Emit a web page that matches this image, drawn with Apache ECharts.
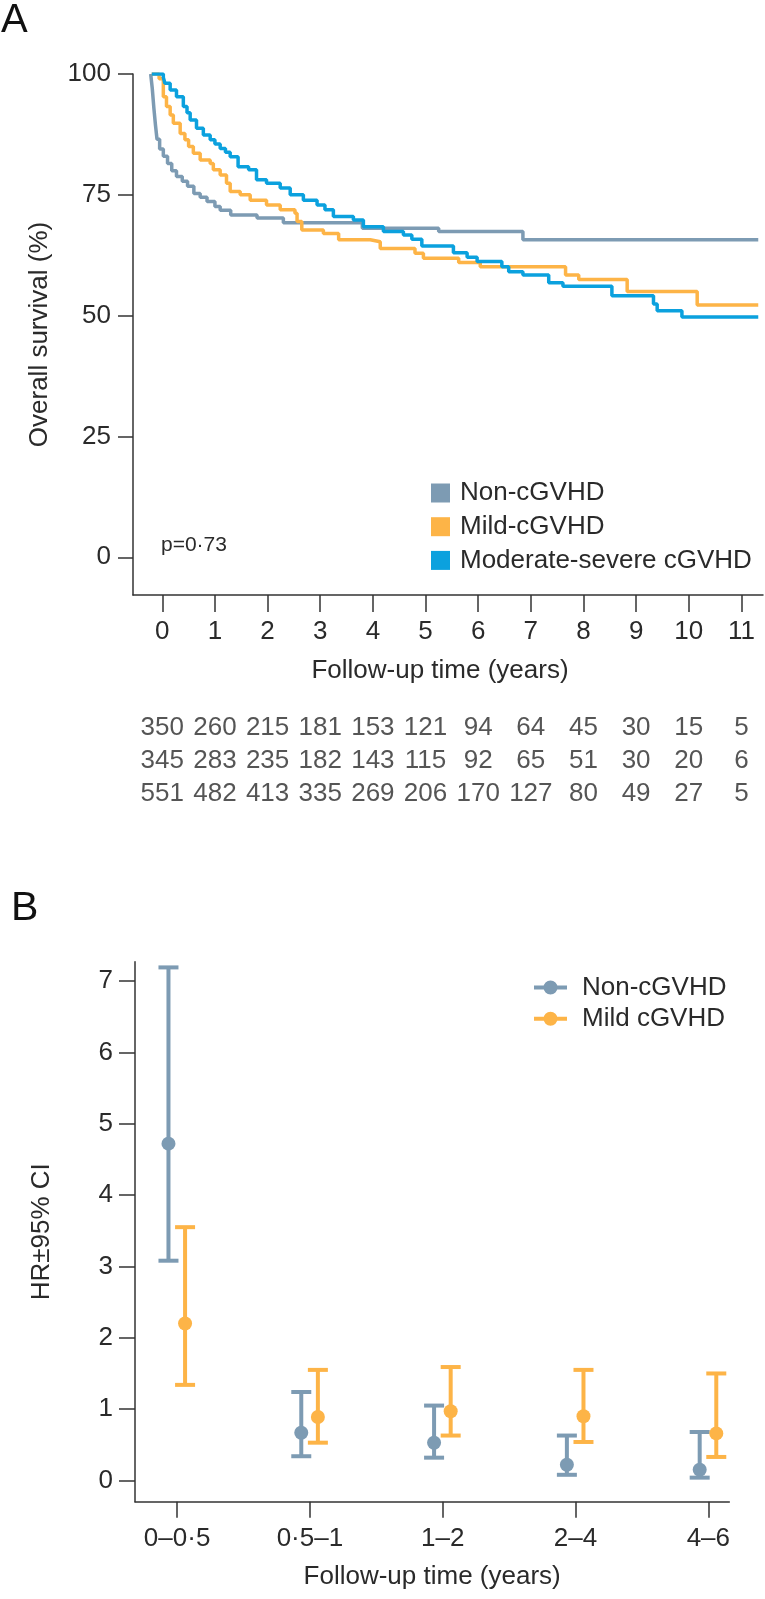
<!DOCTYPE html>
<html><head><meta charset="utf-8">
<script src="https://cdn.jsdelivr.net/npm/echarts@6/dist/echarts.min.js"></script>
<style>html,body{margin:0;padding:0;background:#fff}#c{width:765px;height:1599px}</style>
</head><body><div id="c"></div>
<script>
// ---------- Panel A: Kaplan-Meier steps [time (years), overall survival %] ----------
const kmNon = [[-0.22,100],[-0.19,97],[-0.16,93],[-0.13,89.5],[-0.1,86.5],[-0.05,84.5],[0.02,83],[0.1,81.5],[0.18,80],[0.27,78.8],[0.38,77.8],[0.48,76.8],[0.6,75.3],[0.72,74.5],[0.85,73.6],[1.0,72.6],[1.1,71.8],[1.3,70.8],[1.8,70.2],[2.3,69.2],[3.8,68.1],[5.25,67.4],[6.85,65.7],[11.32,65.7]];
const kmMild = [[-0.2,100],[-0.06,99],[0.02,95.3],[0.08,93.3],[0.15,91.5],[0.21,89.8],[0.34,87.7],[0.43,86.4],[0.5,85],[0.59,83.6],[0.72,82.2],[0.91,81.5],[0.97,80.2],[1.1,79.1],[1.22,77.4],[1.29,75.7],[1.48,75.0],[1.67,73.9],[1.98,72.9],[2.24,71.9],[2.52,71.2],[2.56,69.5],[2.65,67.7],[3.06,67.0],[3.35,65.7],[3.95,65.3],[4.14,63.9],[4.8,62.9],[4.96,61.9],[5.63,61.0],[6.04,60.1],[7.66,58.4],[7.91,57.5],[8.83,55.0],[10.16,52.2],[11.32,52.2]];
const kmMod = [[-0.2,100],[0.02,99.3],[0.05,98.1],[0.15,96.7],[0.27,95.3],[0.4,93.3],[0.47,92],[0.53,90.5],[0.65,88.8],[0.78,87.4],[0.91,86.4],[1.0,85.5],[1.1,84.6],[1.2,83.8],[1.29,82.9],[1.44,80.8],[1.64,80.2],[1.79,78.1],[1.98,77.4],[2.24,76.4],[2.43,75.0],[2.68,73.9],[2.94,72.9],[3.09,71.9],[3.25,70.5],[3.63,69.8],[3.82,68.4],[4.2,67.4],[4.58,66.7],[4.74,65.8],[4.93,64.4],[5.53,63.0],[5.79,62.1],[5.98,61.2],[6.45,60.1],[6.58,59.1],[6.85,58.4],[7.34,56.8],[7.61,56.1],[8.54,54.1],[9.33,52.4],[9.4,51.0],[9.87,49.7],[11.32,49.7]];
const kmNames = ['Non-cGVHD','Mild-cGVHD','Moderate-severe cGVHD'];
const kmTicksX = [0,1,2,3,4,5,6,7,8,9,10,11];
const kmTicksY = [0,25,50,75,100];
const pValueText = 'p=0·73';

// ---------- Numbers at risk ----------
const riskTimes = [0,1,2,3,4,5,6,7,8,9,10,11];
const riskNon  = [350,260,215,181,153,121,94,64,45,30,15,5];
const riskMild = [345,283,235,182,143,115,92,65,51,30,20,6];
const riskMod  = [551,482,413,335,269,206,170,127,80,49,27,5];

// ---------- Panel B: HR ± 95% CI ----------
const hrCategories = ['0–0·5','0·5–1','1–2','2–4','4–6'];
const hrNames = ['Non-cGVHD','Mild cGVHD'];
const hrNon     = [4.72,0.67,0.53,0.22,0.15];
const hrNonLow  = [3.08,0.34,0.32,0.08,0.04];
const hrNonHigh = [7.19,1.24,1.05,0.63,0.68];
const hrMild     = [2.20,0.89,0.97,0.90,0.66];
const hrMildLow  = [1.34,0.53,0.63,0.54,0.33];
const hrMildHigh = [3.55,1.55,1.59,1.55,1.50];
const hrTicksY = [0,1,2,3,4,5,6,7];

// ---------- styling ----------
const C_NON = '#7d9bb3', C_MILD = '#fdb447', C_MOD = '#0ba1de';
const INK = '#2a2a2a', AXIS = '#333333';
const FONT = '"Liberation Sans", Arial, sans-serif';
const FS = 26;

const chart = echarts.init(document.getElementById('c'), null, {renderer:'canvas'});

const axisLineStyle = {show:true, onZero:false, lineStyle:{color:AXIS, width:1.5}};
const kmLine = (name, data, color) => ({
  type:'line', name, data, step:'end', xAxisIndex:0, yAxisIndex:0,
  showSymbol:false, symbol:'none', silent:true,
  lineStyle:{color, width:3.5}, itemStyle:{color}, z:3
});
const riskSeries = (row, vals) => ({
  type:'scatter', xAxisIndex:1, yAxisIndex:1, silent:true, symbolSize:1,
  itemStyle:{color:'transparent'},
  data: riskTimes.map((t,i)=>[t, row, vals[i]]),
  label:{show:true, position:'inside', formatter:p=>String(p.value[2]),
         color:INK, fontSize:FS, fontFamily:FONT}
});
function renderHR(params, api){
  const x = api.value(0);
  const pm = api.coord([x, api.value(1)]);
  const pl = api.coord([x, api.value(2)]);
  const ph = api.coord([x, api.value(3)]);
  const color = api.visual('color');
  const cw = 10;
  const st = {stroke:color, lineWidth:4, fill:null};
  return {type:'group', children:[
    {type:'line', shape:{x1:pl[0],y1:pl[1],x2:ph[0],y2:ph[1]}, style:st},
    {type:'line', shape:{x1:ph[0]-cw,y1:ph[1],x2:ph[0]+cw,y2:ph[1]}, style:st},
    {type:'line', shape:{x1:pl[0]-cw,y1:pl[1],x2:pl[0]+cw,y2:pl[1]}, style:st},
    {type:'circle', shape:{cx:pm[0],cy:pm[1],r:7}, style:{fill:color}}
  ]};
}
const hrSeries = (name, mid, low, high, color, dodge) => ({
  type:'custom', name, xAxisIndex:2, yAxisIndex:2, silent:true,
  renderItem:renderHR, itemStyle:{color},
  encode:{x:0, y:[1,2,3]},
  data: hrCategories.map((c,i)=>[i+dodge, mid[i], low[i], high[i]])
});
const legendIconB = 'path://M0,5 L33,5 L33,9 L0,9 Z M9.5,7 A7,7 0 1 1 23.5,7 A7,7 0 1 1 9.5,7 Z';

const option = {
  animation:false,
  backgroundColor:'#ffffff',
  textStyle:{fontFamily:FONT},
  grid:[
    {left:133, top:74, width:630, height:521, containLabel:false, outerBoundsMode:'none'},
    {left:133, top:711.5, width:630, height:99, containLabel:false, outerBoundsMode:'none'},
    {left:135, top:961.7, width:594.3, height:540, containLabel:false, outerBoundsMode:'none'}
  ],
  xAxis:[
    {gridIndex:0, type:'value', min:-0.556, max:11.41, position:'bottom',
     axisLine:axisLineStyle, splitLine:{show:false},
     axisTick:{show:true, length:17, customValues:kmTicksX, lineStyle:{color:AXIS,width:1.5}},
     axisLabel:{show:true, customValues:kmTicksX, margin:24, color:INK, fontSize:FS, fontFamily:FONT},
     name:'Follow-up time (years)', nameLocation:'middle', nameGap:63,
     nameTextStyle:{color:INK, fontSize:FS, fontFamily:FONT, padding:[0,16,0,0]}},
    {gridIndex:1, type:'value', min:-0.556, max:11.41, show:false},
    {gridIndex:2, type:'value', min:-0.317, max:4.158, position:'bottom',
     axisLine:axisLineStyle, splitLine:{show:false},
     axisTick:{show:true, length:16, customValues:[0,1,2,3,4], lineStyle:{color:AXIS,width:1.5}},
     axisLabel:{show:true, customValues:[0,1,2,3,4], margin:24, color:INK, fontSize:FS, fontFamily:FONT,
                formatter:v=>hrCategories[Math.round(v)]},
     name:'Follow-up time (years)', nameLocation:'middle', nameGap:62,
     nameTextStyle:{color:INK, fontSize:FS, fontFamily:FONT}}
  ],
  yAxis:[
    {gridIndex:0, type:'value', min:-7.8, max:100,
     axisLine:axisLineStyle, splitLine:{show:false},
     axisTick:{show:true, length:15, customValues:kmTicksY, lineStyle:{color:AXIS,width:1.5}},
     axisLabel:{show:true, customValues:kmTicksY, margin:22, color:INK, fontSize:FS, fontFamily:FONT},
     name:'Overall survival (%)', nameLocation:'middle', nameGap:80,
     nameTextStyle:{color:INK, fontSize:FS, fontFamily:FONT}},
    {gridIndex:1, type:'category', data:['r1','r2','r3'], inverse:true, show:false},
    {gridIndex:2, type:'value', min:-0.297, max:7.27,
     axisLine:axisLineStyle, splitLine:{show:false},
     axisTick:{show:true, length:16, customValues:hrTicksY, lineStyle:{color:AXIS,width:1.5}},
     axisLabel:{show:true, customValues:hrTicksY, margin:22, color:INK, fontSize:FS, fontFamily:FONT},
     name:'HR±95% CI', nameLocation:'middle', nameGap:80,
     nameTextStyle:{color:INK, fontSize:FS, fontFamily:FONT}}
  ],
  legend:[
    {orient:'vertical', left:426, top:475, itemWidth:19, itemHeight:19, itemGap:7.7,
     selectedMode:false, icon:'rect',
     data:kmNames.map(n=>({name:n, icon:'rect'})),
     textStyle:{color:INK, fontSize:FS, fontFamily:FONT, lineHeight:26, padding:[0,0,0,5]}},
    {orient:'vertical', left:529, top:969.5, itemWidth:33, itemHeight:14, itemGap:5.3,
     selectedMode:false,
     data:hrNames.map(n=>({name:n, icon:legendIconB})),
     textStyle:{color:INK, fontSize:FS, fontFamily:FONT, lineHeight:26, padding:[0,0,0,10]}}
  ],
  graphic:[
    {type:'text', left:1, top:1, style:{text:'A', fontSize:40, fontFamily:FONT, fill:'#111'}},
    {type:'text', left:11, top:888, style:{text:'B', fontSize:41, fontFamily:FONT, fill:'#111'}},
    {type:'text', left:161, top:535, style:{text:pValueText, fontSize:21, fontFamily:FONT, fill:INK}}
  ],
  series:[
    kmLine(kmNames[0], kmNon, C_NON),
    kmLine(kmNames[1], kmMild, C_MILD),
    kmLine(kmNames[2], kmMod, C_MOD),
    riskSeries(0, riskNon),
    riskSeries(1, riskMild),
    riskSeries(2, riskMod),
    hrSeries(hrNames[0], hrNon, hrNonLow, hrNonHigh, C_NON, -0.065),
    hrSeries(hrNames[1], hrMild, hrMildLow, hrMildHigh, C_MILD, 0.06)
  ]
};
chart.setOption(option);
</script>
</body></html>
